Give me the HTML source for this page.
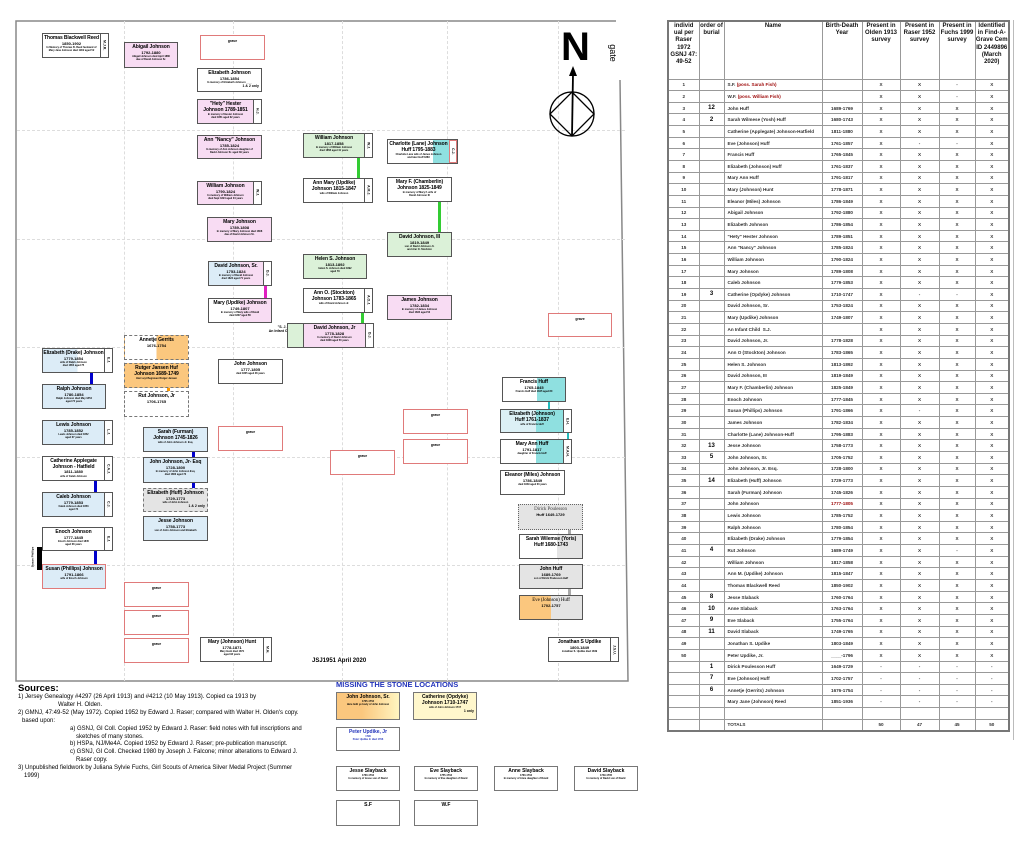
<!DOCTYPE html>
<html><head><meta charset="utf-8">
<style>
*{margin:0;padding:0;box-sizing:border-box}
body{width:1024px;height:841px;background:#fff;position:relative;overflow:hidden;font-family:"Liberation Sans",sans-serif;color:#000}
.gv{position:absolute;border-left:1px dashed #ddd;top:21px;height:660px;width:0}
.gh{position:absolute;border-top:1px dashed #ddd;left:17px;width:608px;height:0}
.b{position:absolute;border:1px solid #555;background:#fff;text-align:center;overflow:hidden}
.b b{display:block;font-size:5px;line-height:5.5px;margin-top:2px;white-space:nowrap;letter-spacing:-0.1px}
.b i{display:block;font-style:normal;font-size:4px;font-weight:bold;line-height:4.5px;white-space:nowrap}
.b s{display:block;text-decoration:none;font-size:2.5px;line-height:3px;font-weight:bold;padding:0 2px;white-space:nowrap;overflow:hidden}
.tp{padding-right:8px}
.tb{position:absolute;right:0;top:0;bottom:0;width:8px;border-left:1px solid #555;background:#fff;font-size:3.5px;writing-mode:vertical-rl;display:flex;align-items:center;justify-content:center;font-weight:bold}
.g{position:absolute;border:1px solid #e07a7a;background:#fff;text-align:center;font-size:3.5px;font-weight:bold;padding-top:3px}
.pk{background:#f8dcf3}.gr{background:#dbf1d8}.bl{background:#dcecf7}.gy{background:#e4e4e4}
.dash{border:1px dashed #777}
.ln{position:absolute;width:3px}
table{position:absolute;left:667px;top:20px;border-collapse:collapse;table-layout:fixed;border:2px solid #777}
td{border:1px solid #999;font-size:4.6px;height:11.65px;text-align:center;padding:0;overflow:hidden;white-space:nowrap;font-weight:bold;color:#333}
td.n{text-align:left;padding-left:3px}
td.o{font-size:6px;color:#000}
tr.h td{height:58px;vertical-align:top;font-size:6px;white-space:normal;line-height:7.2px;padding-top:1px;color:#111}
.red{color:#a01010}
.src{position:absolute;left:18px;top:684px;font-size:6px;line-height:7.9px;width:320px}
.sb{position:absolute;border:1px solid #777;background:#fff;text-align:center;overflow:hidden}
.sb b{display:block;font-size:5px;line-height:6px;margin-top:1px;white-space:nowrap}
.sb s{display:block;text-decoration:none;font-size:2.5px;line-height:3px;font-weight:bold;white-space:nowrap}
</style></head><body>

<svg style="position:absolute;left:0;top:0" width="660" height="700">
<polyline points="616,21 16,21 16,681 628,681 620,80" fill="none" stroke="#888" stroke-width="1.5"/>
</svg>
<div class="gv" style="left:124px"></div><div class="gv" style="left:233px"></div><div class="gv" style="left:342px"></div><div class="gv" style="left:447px"></div><div class="gv" style="left:558px"></div>
<div class="gh" style="top:130px"></div><div class="gh" style="top:239px"></div><div class="gh" style="top:347px"></div><div class="gh" style="top:457px"></div><div class="gh" style="top:565px"></div>

<div style="position:absolute;left:561px;top:27px;font-size:40px;font-weight:bold;line-height:40px">N</div>
<svg style="position:absolute;left:540px;top:60px" width="70" height="85">
<circle cx="32" cy="54" r="22" fill="none" stroke="#000" stroke-width="1.3"/>
<polygon points="32,32 54,54 32,76 10,54" fill="none" stroke="#000" stroke-width="1.3"/>
<line x1="32" y1="76" x2="33" y2="14" stroke="#000" stroke-width="1.8"/>
<polygon points="29,16 33,6 37,16" fill="#000"/>
</svg>
<div style="position:absolute;left:604px;top:48px;font-size:9px;transform:rotate(90deg)">gate</div>

<div class="ln" style="left:264px;top:285px;height:13px;background:#e020c0"></div>
<div class="ln" style="left:357px;top:157px;height:21px;background:#3c3"></div>
<div class="ln" style="left:438px;top:202px;height:30px;background:#3c3"></div>
<div class="ln" style="left:361px;top:313px;height:10px;background:#3c3"></div>
<div class="ln" style="left:90px;top:373px;height:11px;background:#00c"></div>
<div class="ln" style="left:94px;top:481px;height:11px;background:#00c"></div>
<div class="ln" style="left:94px;top:551px;height:13px;background:#00c"></div>
<div class="ln" style="left:192px;top:452px;height:5px;background:#00c"></div>
<div class="ln" style="left:192px;top:483px;height:5px;background:#00c"></div>
<div class="ln" style="left:167px;top:388px;height:4px;background:#f90"></div>
<div class="ln" style="left:567px;top:410px;height:30px;width:2px;background:#2bb"></div>
<div class="ln" style="left:548px;top:402px;height:7px;width:2px;background:#2bb"></div>
<div class="ln" style="left:568px;top:530px;height:5px;background:#aaa"></div>
<div class="ln" style="left:568px;top:589px;height:6px;background:#aaa"></div>
<div style="position:absolute;left:37px;top:547px;width:5px;height:23px;background:#000"></div>
<div style="position:absolute;left:22px;top:555px;font-size:3px;transform:rotate(-90deg);font-weight:bold">Susan Phillips</div>

<div class="b tp" style="left:42px;top:33px;width:67px;height:25px"><b>Thomas Blackwell Reed</b><i>1850-1902</i><s>In Memory of Thomas B. Reed husband of</s><s>Mary Jane Johnson died 1902 aged 52</s><div class="tb">M.J.R.</div></div>
<div class="b pk" style="left:124px;top:42px;width:54px;height:26px"><b>Abigail Johnson</b><i>1792-1880</i><s>Abigail Johnson died April 1880</s><s>dau of David Johnson Sr.</s></div>
<div class="g" style="left:200px;top:35px;width:65px;height:25px">grave</div>
<div class="b" style="left:197px;top:68px;width:65px;height:24px"><b>Elizabeth Johnson</b><i>1786-1854</i><s>In memory of Elizabeth Johnson ____</s><div style="font-size:3.5px;text-align:right;padding-right:2px;font-weight:bold">1 &amp; 2 only</div></div>
<div class="b pk tp" style="left:197px;top:99px;width:65px;height:25px"><b>"Hety" Hester</b><b style="margin:0">Johnson 1789-1851</b><s>In memory of Hester Johnson</s><s>died 1851 aged 62 years</s><div class="tb">H.J.</div></div>
<div class="b pk" style="left:197px;top:135px;width:65px;height:24px"><b>Ann "Nancy" Johnson</b><i>1785-1824</i><s>In memory of Ann Johnson daughter of</s><s>David Johnson Sr. aged 39 years</s></div>
<div class="b pk tp" style="left:197px;top:181px;width:65px;height:24px"><b>William Johnson</b><i>1790-1824</i><s>In memory of William Johnson</s><s>died Sept 1824 aged 34 years</s><div class="tb">W.J.</div></div>
<div class="b pk" style="left:207px;top:217px;width:65px;height:25px"><b>Mary Johnson</b><i>1789-1808</i><s>In memory of Mary Johnson died 1808</s><s>dau of David Johnson Sr.</s></div>
<div class="b tp" style="left:208px;top:261px;width:64px;height:25px;background:linear-gradient(90deg,#dcecf7 50%,#f8dcf3 50%)"><b>David Johnson, Sr.</b><i>1753-1824</i><s>In memory of David Johnson</s><s>died 1824 aged 71 years</s><div class="tb">D.J.</div></div>
<div class="b" style="left:208px;top:298px;width:64px;height:25px;background:linear-gradient(90deg,#fff 50%,#f8dcf3 50%)"><b>Mary (Updike) Johnson</b><i>1749-1807</i><s>In memory of Mary wife of David</s><s>died 1807 aged 58</s></div>
<div style="position:absolute;left:268px;top:325px;width:28px;font-size:3.5px;font-weight:bold;text-align:center;line-height:4px">"S. J.<br>An Infant Child"</div>
<div class="b gr" style="left:287px;top:323px;width:17px;height:25px"></div>
<div class="b pk tp" style="left:303px;top:323px;width:71px;height:25px"><b>David Johnson, Jr</b><i>1778-1828</i><s>In memory of David Johnson</s><s>died 1828 aged 50 years</s><div class="tb">D.J.</div></div>

<div class="b gr tp" style="left:303px;top:133px;width:70px;height:25px"><b>William Johnson</b><i>1817-1858</i><s>In memory of William Johnson</s><s>died 1858 aged 41 years</s><div class="tb">W.J.</div></div>
<div class="b tp" style="left:303px;top:178px;width:70px;height:25px"><b>Ann Mary (Updike)</b><b style="margin:0">Johnson 1815-1847</b><s>wife of William Johnson</s><div class="tb">A.M.J.</div></div>
<div class="b tp" style="left:387px;top:139px;width:71px;height:25px;background:linear-gradient(90deg,#fff 65%,#8fe0e0 65%)"><b>Charlotte (Lane) Johnson</b><b style="margin:0">Huff 1795-1883</b><s>Charlotte Lane wife of James Johnson</s><s>and later Huff 1883</s><div class="tb" style="border:1px solid #e07a7a">C.J.</div></div>
<div class="b" style="left:387px;top:177px;width:65px;height:25px"><b>Mary F. (Chamberlin)</b><b style="margin:0">Johnson 1825-1849</b><s>In memory of Mary F. wife of</s><s>David Johnson III</s></div>
<div class="b gr" style="left:387px;top:232px;width:65px;height:25px"><b>David Johnson, III</b><i>1819-1849</i><s>son of David Johnson Jr.</s><s>and Ann O. Stockton</s></div>
<div class="b gr" style="left:303px;top:254px;width:64px;height:25px"><b>Helen S. Johnson</b><i>1813-1892</i><s>Helen S. Johnson died 1892</s><s>aged 79</s></div>
<div class="b tp" style="left:303px;top:288px;width:70px;height:25px"><b>Ann O. (Stockton)</b><b style="margin:0">Johnson 1783-1865</b><s>wife of David Johnson Jr.</s><div class="tb">A.O.J.</div></div>
<div class="b pk" style="left:387px;top:295px;width:65px;height:25px"><b>James Johnson</b><i>1782-1834</i><s>In memory of James Johnson</s><s>died 1834 aged 52</s></div>
<div class="g" style="left:548px;top:313px;width:64px;height:24px">grave</div>

<div class="b dash" style="left:124px;top:335px;width:65px;height:25px;background:linear-gradient(90deg,#fff 50%,#fbc77e 50%)"><b>Annetje Gerrits</b><i>1676-1754</i></div>
<div class="b dash" style="left:124px;top:363px;width:65px;height:25px;background:#fbc77e"><b>Rutger Jansen Huf</b><b style="margin:0">Johnson 1689-1749</b><s>Hier Leyt Begraven Rutger Jansen</s></div>
<div class="b dash" style="left:124px;top:391px;width:65px;height:26px"><b>Rut Johnson, Jr</b><i>1706-1765</i></div>
<div class="b tp" style="left:42px;top:348px;width:71px;height:25px;background:linear-gradient(90deg,#dcecf7 50%,#fff 50%)"><b>Elizabeth (Drake) Johnson</b><i>1779-1854</i><s>wife of Ralph Johnson</s><s>died 1854 aged 75</s><div class="tb">E.J.</div></div>
<div class="b bl" style="left:42px;top:384px;width:64px;height:25px"><b>Ralph Johnson</b><i>1780-1854</i><s>Ralph Johnson died May 1854</s><s>aged 74 years</s></div>
<div class="b bl tp" style="left:42px;top:420px;width:71px;height:25px"><b>Lewis Johnson</b><i>1785-1852</i><s>Lewis Johnson died 1852</s><s>aged 67 years</s><div class="tb">L.J.</div></div>
<div class="b tp" style="left:42px;top:456px;width:71px;height:25px"><b>Catherine Applegate</b><b style="margin:0">Johnson - Hatfield</b><i>1811-1880</i><s>wife of Caleb Johnson</s><div class="tb">C.A.J.</div></div>
<div class="b bl tp" style="left:42px;top:492px;width:71px;height:25px"><b>Caleb Johnson</b><i>1779-1853</i><s>Caleb Johnson died 1853</s><s>aged 74</s><div class="tb">C.J.</div></div>
<div class="b tp" style="left:42px;top:527px;width:71px;height:24px"><b>Enoch Johnson</b><i>1777-1845</i><s>Enoch Johnson died 1845</s><s>aged 68 years</s><div class="tb">E.J.</div></div>
<div class="b bl" style="left:42px;top:564px;width:64px;height:25px;border-color:#e07a7a"><b>Susan (Phillips) Johnson</b><i>1791-1866</i><s>wife of Enoch Johnson</s></div>
<div class="b" style="left:218px;top:359px;width:65px;height:25px"><b>John Johnson</b><i>1777-1805</i><s>died 1805 aged 28 years</s></div>
<div class="g" style="left:218px;top:426px;width:65px;height:25px">grave</div>
<div class="b bl" style="left:143px;top:427px;width:65px;height:25px"><b>Sarah (Furman)</b><b style="margin:0">Johnson 1745-1826</b><s>wife of John Johnson Jr. Esq.</s></div>
<div class="b bl" style="left:143px;top:457px;width:65px;height:26px"><b>John Johnson, Jr- Esq</b><i>1728-1800</i><s>In memory of John Johnson Esq.</s><s>died 1800 aged 72</s></div>
<div class="b gy dash" style="left:143px;top:488px;width:65px;height:24px"><b>Elizabeth (Huff) Johnson</b><i>1729-1773</i><s>wife of John Johnson</s><div style="font-size:3.5px;text-align:right;padding-right:2px;font-weight:bold">1 &amp; 2 only</div></div>
<div class="b bl" style="left:143px;top:516px;width:65px;height:25px"><b>Jesse Johnson</b><i>1758-1773</i><s>son of John Johnson and Elizabeth</s></div>
<div class="g" style="left:124px;top:582px;width:65px;height:25px">grave</div>
<div class="g" style="left:124px;top:610px;width:65px;height:25px">grave</div>
<div class="g" style="left:124px;top:638px;width:65px;height:25px">grave</div>
<div class="b tp" style="left:200px;top:637px;width:72px;height:25px"><b>Mary (Johnson) Hunt</b><i>1778-1871</i><s>Mary Hunt died 1871</s><s>aged 93 years</s><div class="tb">M.H.</div></div>
<div style="position:absolute;left:312px;top:658px;font-size:6px;font-weight:bold">JSJ1951 April 2020</div>

<div class="g" style="left:330px;top:450px;width:65px;height:25px">grave</div>
<div class="g" style="left:403px;top:409px;width:65px;height:25px">grave</div>
<div class="g" style="left:403px;top:439px;width:65px;height:25px">grave</div>
<div class="b" style="left:502px;top:377px;width:64px;height:25px;background:linear-gradient(90deg,#fff 55%,#8fe0e0 55%)"><b>Francis Huff</b><i>1765-1845</i><s>Francis Huff died 1845 aged 80</s></div>
<div class="b tp" style="left:500px;top:409px;width:72px;height:24px;background:linear-gradient(90deg,#dcf0f5 50%,#8fe0e0 50%)"><b>Elizabeth (Johnson)</b><b style="margin:0">Huff 1761-1837</b><s>wife of Francis Huff</s><div class="tb">E.H.</div></div>
<div class="b tp" style="left:500px;top:439px;width:72px;height:25px;background:linear-gradient(90deg,#fff 50%,#8fe0e0 50%)"><b>Mary Ann Huff</b><i>1791-1817</i><s>daughter of Francis Huff</s><div class="tb">M.A.H.</div></div>
<div class="b" style="left:500px;top:470px;width:65px;height:25px"><b>Eleanor (Miles) Johnson</b><i>1786-1849</i><s>died 1849 aged 63 years</s></div>
<div class="b gy" style="left:518px;top:504px;width:65px;height:26px;border:1px dotted #666"><b style="font-weight:normal;font-family:'Liberation Serif',serif;color:#444">Dirick Poulesson</b><i>Huff 1649-1729</i></div>
<div class="b" style="left:519px;top:534px;width:64px;height:25px;background:linear-gradient(90deg,#fff 60%,#e4e4e4 60%)"><b>Sarah Wilemse (Yoris)</b><b style="margin:0">Huff 1680-1743</b></div>
<div class="b gy" style="left:519px;top:564px;width:64px;height:25px"><b>John Huff</b><i>1689-1769</i><s>son of Dirick Poulesson Huff</s></div>
<div class="b" style="left:519px;top:595px;width:64px;height:25px;background:linear-gradient(90deg,#fbc77e 50%,#e4e4e4 50%)"><b style="font-weight:normal;font-family:'Liberation Serif',serif">Eve (Johnson) Huff</b><i>1702-1757</i></div>
<div class="b tp" style="left:548px;top:637px;width:71px;height:25px"><b>Jonathan S Updike</b><i>1803-1849</i><s>Jonathan S. Updike died 1849</s><div class="tb">J.S.U.</div></div>

<div class="src"><div style="font-size:9.5px;font-weight:bold;line-height:10px">Sources:</div>
1) Jersey Genealogy #4297 (26 April 1913) and #4212 (10 May 1913). Copied ca 1913 by<br>
<span style="padding-left:40px">Walter H. Olden.</span><br>
2) GMNJ, 47:49-52 (May 1972). Copied 1952 by Edward J. Raser; compared with Walter H. Olden's copy.<br>
<span style="padding-left:4px">based upon:</span><br>
<span style="padding-left:52px">a) GSNJ, GI Coll. Copied 1952 by Edward J. Raser: field notes with full inscriptions and</span><br>
<span style="padding-left:58px">sketches of many stones.</span><br>
<span style="padding-left:52px">b) HSPa, NJ/Me4A. Copied 1952 by Edward J. Raser; pre-publication manuscript.</span><br>
<span style="padding-left:52px">c) GSNJ, GI Coll. Checked 1980 by Joseph J. Falcone; minor alterations to Edward J.</span><br>
<span style="padding-left:58px">Raser copy.</span><br>
3) Unpublished fieldwork by Juliana Sylvie Fuchs, Girl Scouts of America Silver Medal Project (Summer<br>
<span style="padding-left:6px">1999)</span></div>

<div style="position:absolute;left:336px;top:680px;font-size:7.5px;font-weight:bold;color:#2233bb">MISSING THE STONE LOCATIONS</div>
<div class="sb" style="left:336px;top:692px;width:64px;height:28px;background:linear-gradient(90deg,#fbc77e 40%,#fff5c0 100%)"><b>John Johnson, Sr.</b><s>1705-1752</s><s>Here lieth ye body of John Johnson</s></div>
<div class="sb" style="left:413px;top:692px;width:64px;height:28px;background:#fff7cc"><b>Catherine (Opdyke)</b><b style="margin:0">Johnson 1710-1747</b><s>wife of John Johnson 1747</s><div style="font-size:3.5px;text-align:right;padding-right:2px;font-weight:bold">1 only</div></div>
<div class="sb" style="left:336px;top:727px;width:64px;height:24px"><b style="color:#2233bb">Peter Updike, Jr</b><s style="color:#2233bb">1796</s><s style="color:#2233bb">Peter Updike Jr died 1796</s></div>
<div class="sb" style="left:336px;top:766px;width:64px;height:25px"><b>Jesse Slayback</b><s>1760-1764</s><s>In memory of Jesse son of David</s></div>
<div class="sb" style="left:414px;top:766px;width:64px;height:25px"><b>Eve Slayback</b><s>1755-1764</s><s>In memory of Eve daughter of David</s></div>
<div class="sb" style="left:494px;top:766px;width:64px;height:25px"><b>Anne Slayback</b><s>1763-1764</s><s>In memory of Anne daughter of David</s></div>
<div class="sb" style="left:574px;top:766px;width:64px;height:25px"><b>David Slayback</b><s>1749-1765</s><s>In memory of David son of David</s></div>
<div class="sb" style="left:336px;top:800px;width:64px;height:26px"><b>S.F</b></div>
<div class="sb" style="left:414px;top:800px;width:64px;height:26px"><b>W.F</b></div>

<table>
<colgroup><col style="width:31px"><col style="width:25px"><col style="width:98px"><col style="width:40px"><col style="width:38px"><col style="width:39px"><col style="width:36px"><col style="width:34px"></colgroup>
<tr class="h"><td>individ ual per Raser 1972 GSNJ 47: 49-52</td><td>order of burial</td><td>Name</td><td>Birth-Death Year</td><td>Present in Olden 1913 survey</td><td>Present in Raser 1952 survey</td><td>Present in Fuchs 1999 survey</td><td>Identified in Find-A-Grave Cem ID 2449896 (March 2020)</td></tr>
<tr><td>1</td><td></td><td class="n">S.F. <span class="red">(poss. Sarah Fish)</span></td><td></td><td>X</td><td>X</td><td>-</td><td>X</td></tr>
<tr><td>2</td><td></td><td class="n">W.F. <span class="red">(poss. William Fish)</span></td><td></td><td>X</td><td>X</td><td>-</td><td>X</td></tr>
<tr><td>3</td><td class="o">12</td><td class="n">John Huff</td><td>1689-1769</td><td>X</td><td>X</td><td>X</td><td>X</td></tr>
<tr><td>4</td><td class="o">2</td><td class="n">Sarah Wilmese (Yosh) Huff</td><td>1680-1743</td><td>X</td><td>X</td><td>X</td><td>X</td></tr>
<tr><td>5</td><td></td><td class="n">Catherine (Applegate) Johnson-Hatfield</td><td>1811-1880</td><td>X</td><td>X</td><td>X</td><td>X</td></tr>
<tr><td>6</td><td></td><td class="n">Eve (Johnson) Huff</td><td>1761-1857</td><td>X</td><td>-</td><td>-</td><td>X</td></tr>
<tr><td>7</td><td></td><td class="n">Francis Huff</td><td>1765-1845</td><td>X</td><td>X</td><td>X</td><td>X</td></tr>
<tr><td>8</td><td></td><td class="n">Elizabeth (Johnson) Huff</td><td>1761-1837</td><td>X</td><td>X</td><td>X</td><td>X</td></tr>
<tr><td>9</td><td></td><td class="n">Mary Ann Huff</td><td>1791-1817</td><td>X</td><td>X</td><td>X</td><td>X</td></tr>
<tr><td>10</td><td></td><td class="n">Mary (Johnson) Hunt</td><td>1778-1871</td><td>X</td><td>X</td><td>X</td><td>X</td></tr>
<tr><td>11</td><td></td><td class="n">Eleanor (Miles) Johnson</td><td>1786-1849</td><td>X</td><td>X</td><td>X</td><td>X</td></tr>
<tr><td>12</td><td></td><td class="n">Abigail Johnson</td><td>1792-1880</td><td>X</td><td>X</td><td>X</td><td>X</td></tr>
<tr><td>13</td><td></td><td class="n">Elizabeth Johnson</td><td>1786-1854</td><td>X</td><td>X</td><td>X</td><td>X</td></tr>
<tr><td>14</td><td></td><td class="n">"Hety" Hester Johnson</td><td>1789-1851</td><td>X</td><td>X</td><td>X</td><td>X</td></tr>
<tr><td>15</td><td></td><td class="n">Ann "Nancy" Johnson</td><td>1785-1824</td><td>X</td><td>X</td><td>X</td><td>X</td></tr>
<tr><td>16</td><td></td><td class="n">William Johnson</td><td>1790-1824</td><td>X</td><td>X</td><td>X</td><td>X</td></tr>
<tr><td>17</td><td></td><td class="n">Mary Johnson</td><td>1789-1808</td><td>X</td><td>X</td><td>X</td><td>X</td></tr>
<tr><td>18</td><td></td><td class="n">Caleb Johnson</td><td>1779-1853</td><td>X</td><td>X</td><td>X</td><td>X</td></tr>
<tr><td>19</td><td class="o">3</td><td class="n">Catherine (Opdyke) Johnson</td><td>1710-1747</td><td>X</td><td>-</td><td>-</td><td>X</td></tr>
<tr><td>20</td><td></td><td class="n">David Johnson, Sr.</td><td>1753-1824</td><td>X</td><td>X</td><td>X</td><td>X</td></tr>
<tr><td>21</td><td></td><td class="n">Mary (Updike) Johnson</td><td>1749-1807</td><td>X</td><td>X</td><td>X</td><td>X</td></tr>
<tr><td>22</td><td></td><td class="n">An Infant Child &nbsp;S.J.</td><td></td><td>X</td><td>X</td><td>X</td><td>X</td></tr>
<tr><td>23</td><td></td><td class="n">David Johnson, Jr.</td><td>1778-1828</td><td>X</td><td>X</td><td>X</td><td>X</td></tr>
<tr><td>24</td><td></td><td class="n">Ann O (Stockton) Johnson</td><td>1783-1865</td><td>X</td><td>X</td><td>X</td><td>X</td></tr>
<tr><td>25</td><td></td><td class="n">Helen S. Johnson</td><td>1813-1892</td><td>X</td><td>X</td><td>X</td><td>X</td></tr>
<tr><td>26</td><td></td><td class="n">David Johnson, III</td><td>1819-1849</td><td>X</td><td>X</td><td>X</td><td>X</td></tr>
<tr><td>27</td><td></td><td class="n">Mary F. (Chamberlin) Johnson</td><td>1825-1849</td><td>X</td><td>X</td><td>X</td><td>X</td></tr>
<tr><td>28</td><td></td><td class="n">Enoch Johnson</td><td>1777-1845</td><td>X</td><td>X</td><td>X</td><td>X</td></tr>
<tr><td>29</td><td></td><td class="n">Susan (Phillips) Johnson</td><td>1791-1866</td><td>X</td><td>-</td><td>X</td><td>X</td></tr>
<tr><td>30</td><td></td><td class="n">James Johnson</td><td>1782-1834</td><td>X</td><td>X</td><td>X</td><td>X</td></tr>
<tr><td>31</td><td></td><td class="n">Charlotte (Lane) Johnson-Huff</td><td>1795-1883</td><td>X</td><td>X</td><td>X</td><td>X</td></tr>
<tr><td>32</td><td class="o">13</td><td class="n">Jesse Johnson</td><td>1758-1773</td><td>X</td><td>X</td><td>X</td><td>X</td></tr>
<tr><td>33</td><td class="o">5</td><td class="n">John Johnson, Sr.</td><td>1705-1752</td><td>X</td><td>X</td><td>X</td><td>X</td></tr>
<tr><td>34</td><td></td><td class="n">John Johnson, Jr. Esq.</td><td>1728-1800</td><td>X</td><td>X</td><td>X</td><td>X</td></tr>
<tr><td>35</td><td class="o">14</td><td class="n">Elizabeth (Huff) Johnson</td><td>1729-1773</td><td>X</td><td>X</td><td>X</td><td>X</td></tr>
<tr><td>36</td><td></td><td class="n">Sarah (Furman) Johnson</td><td>1745-1826</td><td>X</td><td>X</td><td>X</td><td>X</td></tr>
<tr><td>37</td><td></td><td class="n">John Johnson</td><td class="red">1777-1805</td><td>X</td><td>X</td><td>X</td><td>X</td></tr>
<tr><td>38</td><td></td><td class="n">Lewis Johnson</td><td>1785-1752</td><td>X</td><td>X</td><td>X</td><td>X</td></tr>
<tr><td>39</td><td></td><td class="n">Ralph Johnson</td><td>1780-1854</td><td>X</td><td>X</td><td>X</td><td>X</td></tr>
<tr><td>40</td><td></td><td class="n">Elizabeth (Drake) Johnson</td><td>1779-1854</td><td>X</td><td>X</td><td>X</td><td>X</td></tr>
<tr><td>41</td><td class="o">4</td><td class="n">Rut Johnson</td><td>1689-1749</td><td>X</td><td>X</td><td>-</td><td>X</td></tr>
<tr><td>42</td><td></td><td class="n">William Johnson</td><td>1817-1858</td><td>X</td><td>X</td><td>X</td><td>X</td></tr>
<tr><td>43</td><td></td><td class="n">Ann M. (Updike) Johnson</td><td>1815-1847</td><td>X</td><td>X</td><td>X</td><td>X</td></tr>
<tr><td>44</td><td></td><td class="n">Thomas Blackwell Reed</td><td>1850-1902</td><td>X</td><td>X</td><td>X</td><td>X</td></tr>
<tr><td>45</td><td class="o">8</td><td class="n">Jesse Slaback</td><td>1760-1764</td><td>X</td><td>X</td><td>X</td><td>X</td></tr>
<tr><td>46</td><td class="o">10</td><td class="n">Anne Slaback</td><td>1763-1764</td><td>X</td><td>X</td><td>X</td><td>X</td></tr>
<tr><td>47</td><td class="o">9</td><td class="n">Eve Slaback</td><td>1755-1764</td><td>X</td><td>X</td><td>X</td><td>X</td></tr>
<tr><td>48</td><td class="o">11</td><td class="n">David Slaback</td><td>1749-1765</td><td>X</td><td>X</td><td>X</td><td>X</td></tr>
<tr><td>49</td><td></td><td class="n">Jonathan S. Updike</td><td>1803-1849</td><td>X</td><td>X</td><td>X</td><td>X</td></tr>
<tr><td>50</td><td></td><td class="n">Peter Updike, Jr.</td><td>____-1796</td><td>X</td><td>X</td><td>X</td><td>X</td></tr>
<tr><td></td><td class="o">1</td><td class="n">Dirick Poulesson Huff</td><td>1649-1729</td><td>-</td><td>-</td><td>-</td><td>-</td></tr>
<tr><td></td><td class="o">7</td><td class="n">Eve (Johnson) Huff</td><td>1702-1757</td><td>-</td><td>-</td><td>-</td><td>-</td></tr>
<tr><td></td><td class="o">6</td><td class="n">Annetje (Gerrits) Johnson</td><td>1676-1754</td><td>-</td><td>-</td><td>-</td><td>-</td></tr>
<tr><td></td><td></td><td class="n">Mary Jane (Johnson) Reed</td><td>1851-1936</td><td>-</td><td>-</td><td>-</td><td>-</td></tr>
<tr><td></td><td></td><td></td><td></td><td></td><td></td><td></td><td></td></tr>
<tr><td></td><td></td><td class="n">TOTALS</td><td></td><td>50</td><td>47</td><td>45</td><td>50</td></tr>
</table>
<div style="position:absolute;left:1013px;top:20px;width:1px;height:720px;background:#bbb"></div>
</body></html>
